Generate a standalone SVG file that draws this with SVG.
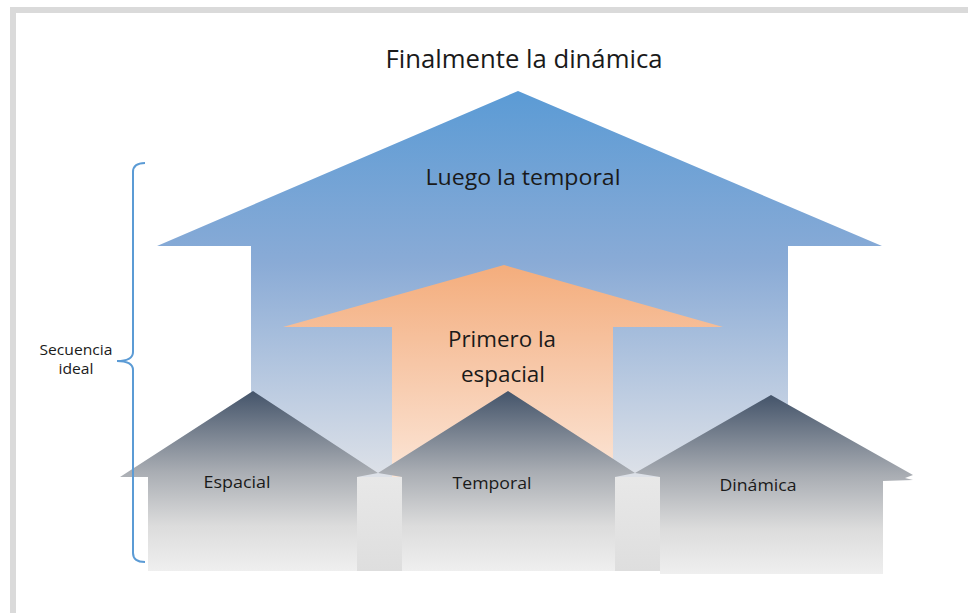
<svg xmlns="http://www.w3.org/2000/svg" width="968" height="613" viewBox="0 0 968 613">
<defs>
<linearGradient id="gBlue" x1="0" y1="91" x2="0" y2="475" gradientUnits="userSpaceOnUse">
<stop offset="0" stop-color="#5b9bd5"/>
<stop offset="0.45" stop-color="#8aabd6"/>
<stop offset="1" stop-color="#dde1e8"/>
</linearGradient>
<linearGradient id="gOrange" x1="0" y1="265" x2="0" y2="510" gradientUnits="userSpaceOnUse">
<stop offset="0" stop-color="#f4ad7c"/>
<stop offset="0.3" stop-color="#f6c09c"/>
<stop offset="1" stop-color="#fdeee4"/>
</linearGradient>
<linearGradient id="gHouse" x1="0" y1="0" x2="0" y2="1">
<stop offset="0" stop-color="#44546a"/>
<stop offset="0.45" stop-color="#a9adb3"/>
<stop offset="0.75" stop-color="#dcdcdc"/>
<stop offset="1" stop-color="#efefef"/>
</linearGradient>
<linearGradient id="gGap" x1="0" y1="0" x2="0" y2="1">
<stop offset="0" stop-color="#e8e8e8"/>
<stop offset="1" stop-color="#dedede"/>
</linearGradient>
<style>
.t{font-family:"Open Sans","Liberation Sans",sans-serif;fill:#1a1a1a;text-anchor:middle}
</style>
</defs>
<rect x="0" y="0" width="968" height="613" fill="#ffffff"/>
<rect x="13" y="10" width="980" height="640" fill="none" stroke="#dadada" stroke-width="6"/>

<g id="title"><text class="t" x="524" y="68" font-size="26" textLength="277" lengthAdjust="spacingAndGlyphs">Finalmente la dinámica</text></g>

<g id="arrow-temporal">
<polygon points="518,91 882,246 788,246 788,478 251,478 251,246 157,246" fill="url(#gBlue)"/>
<text class="t" x="523" y="185" font-size="22" textLength="195" lengthAdjust="spacingAndGlyphs">Luego la temporal</text>
</g>

<g id="arrow-espacial">
<polygon points="504,265 723,327 613,327 613,510 392,510 392,327 283,327" fill="url(#gOrange)"/>
<text class="t" x="502" y="347" font-size="22" textLength="108" lengthAdjust="spacingAndGlyphs">Primero la</text>
<text class="t" x="503" y="382" font-size="22" textLength="84" lengthAdjust="spacingAndGlyphs">espacial</text>
</g>

<g id="gaps">
<rect x="357" y="477" width="45" height="94" fill="url(#gGap)"/>
<rect x="615" y="477" width="45" height="94" fill="url(#gGap)"/>
</g>

<g id="house-espacial">
<polygon points="253,391 378,473 357,477 357,571 148,571 148,477 120,477" fill="url(#gHouse)"/>
<text class="t" x="237" y="488" font-size="17" textLength="67" lengthAdjust="spacingAndGlyphs">Espacial</text>
</g>

<g id="house-temporal">
<polygon points="508,391 635,473 615,477 615,571 402,571 402,477 378,473" fill="url(#gHouse)"/>
<text class="t" x="492" y="489" font-size="17" textLength="79" lengthAdjust="spacingAndGlyphs">Temporal</text>
</g>

<g id="house-dinamica">
<polygon points="771,395 913,475 905,478 913,480 883,481 883,574 660,574 660,477 635,473" fill="url(#gHouse)"/>
<text class="t" x="758" y="491" font-size="17" textLength="77" lengthAdjust="spacingAndGlyphs">Dinámica</text>
</g>

<g id="brace-label">
<path d="M145,163 Q133,163 133,172 L133,352 Q133,361 117,361 Q133,361 133,370 L133,553 Q133,562 145,562" fill="none" stroke="#5b9bd5" stroke-width="2"/>
<text class="t" x="76" y="355" font-size="14" textLength="73" lengthAdjust="spacingAndGlyphs">Secuencia</text>
<text class="t" x="76" y="374" font-size="14" textLength="35" lengthAdjust="spacingAndGlyphs">ideal</text>
</g>
</svg>
